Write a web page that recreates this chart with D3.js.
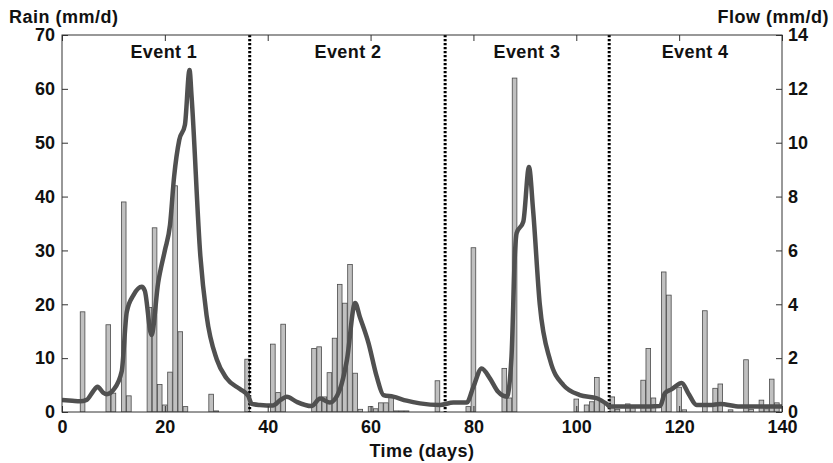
<!DOCTYPE html>
<html>
<head>
<meta charset="utf-8">
<script src="https://cdn.jsdelivr.net/npm/d3@7"></script>
<style>
  body { margin: 0; background: #fff; }
  text { font-family: "Liberation Sans", Arial, Helvetica, sans-serif; font-weight: bold; fill: #111; }
</style>
</head>
<body>
<svg id="chart" width="833" height="463"></svg>
<script>
// daily rain bars (day, mm/d)
var rainDays = [4, 9, 10, 12, 13, 17, 18, 19, 20, 21, 22, 23, 24, 29, 30, 36,
  41, 42, 43, 49, 50, 51, 52, 53, 54, 55, 56, 57, 58, 60, 61, 62, 63, 64, 65, 66, 67, 73,
  79, 80, 86, 87, 88, 100, 102, 103, 104, 105,
  107, 108, 110, 111, 113, 114, 115, 117, 118, 120, 121, 125, 127, 128, 130, 133, 134, 136, 137, 138, 139];
var rainValues = [18.6, 16.2, 3.5, 39.0, 3.0, 19.4, 34.2, 5.1, 1.3, 7.4, 42.0, 14.9, 1.0, 3.3, 0.2, 9.8,
  12.6, 3.6, 16.3, 11.8, 12.1, 2.8, 7.3, 13.7, 23.7, 20.2, 27.4, 7.2, 0.5, 1.0, 0.6, 1.7, 1.7, 3.0, 0.2, 0.2, 0.2, 5.8,
  1.0, 30.5, 8.1, 2.6, 62.0, 2.4, 1.3, 1.9, 6.4, 1.9,
  2.8, 0.5, 1.5, 0.8, 5.9, 11.8, 2.6, 26.0, 21.7, 4.6, 0.4, 18.8, 4.4, 5.2, 0.4, 9.7, 0.5, 2.2, 0.6, 6.1, 1.7];

// flow hydrograph (day, mm/d)
var flowDays = [0, 2, 3.5, 4.8, 6, 6.9, 8, 8.7, 10, 11.6, 12.6, 13.9, 15.5, 16.1, 17.4, 18.7, 20, 21, 21.8, 22.8,
  23.9, 24.8, 25.2, 26.9, 28.1, 30.1, 32, 34.6, 36.2, 36.9, 38.5, 41, 42.5, 43.7, 45.6, 48.5, 50.2, 52.1,
  54, 55.4, 57, 57.9, 59.6, 61.2, 62.5, 64.4, 67, 69.6, 73.5, 76.1, 78.7, 80, 81.6, 83.2, 84.8, 86.5,
  87.4, 88.1, 88.4, 89.7, 90.8, 91.6, 92.9, 94.9, 97.5, 100.7, 104, 105.9, 106.6, 109.8, 112.4, 116.3,
  117.2, 118.5, 120.5, 121.8, 123.4, 126, 128, 131.8, 135.7, 139, 140];
var flowValues = [0.45, 0.42, 0.4, 0.45, 0.75, 0.94, 0.72, 0.66, 0.82, 1.5, 3.72, 4.34, 4.65, 4.5, 2.86, 4.8, 6.0, 6.94, 8.74, 10.1,
  10.66, 12.7, 11.7, 5.8, 3.6, 1.95, 1.25, 0.85, 0.6, 0.3, 0.26, 0.24, 0.45, 0.57, 0.38, 0.22, 0.5, 0.35,
  0.82, 1.93, 4.05, 3.54, 2.56, 1.31, 0.63, 0.57, 0.42, 0.32, 0.26, 0.35, 0.35, 0.94, 1.62, 1.25, 0.75, 0.57,
  2.05, 6.0, 6.64, 7.07, 9.1, 7.5, 4.0, 1.93, 1.0, 0.63, 0.51, 0.3, 0.2, 0.2, 0.2, 0.22,
  0.69, 0.84, 1.08, 0.69, 0.26, 0.26, 0.3, 0.2, 0.2, 0.2, 0.2];

// event separators and labels
var eventBreaks = [36.5, 74.5, 106.4];
var eventNames = ["Event 1", "Event 2", "Event 3", "Event 4"];
var eventCentres = [19.8, 55.6, 90.4, 123.1];

var xTicks = [0, 20, 40, 60, 80, 100, 120, 140]
  , rainTicks = [0, 10, 20, 30, 40, 50, 60, 70]
  , flowTicks = [0, 2, 4, 6, 8, 10, 12, 14];

// plot box (note: "top" is taken by window.top, so use plot_* names)
var plot_left = 62, plot_right = 782, plot_top = 35, plot_bottom = 412;

var svg = d3.select("#chart");

var x = d3.scaleLinear().domain([0, 140]).range([plot_left, plot_right])
  , yRain = d3.scaleLinear().domain([0, 70]).range([plot_bottom, plot_top])
  , yFlow = d3.scaleLinear().domain([0, 14]).range([plot_bottom, plot_top]);

svg.append("clipPath").attr("id", "plot-clip")
  .append("rect")
  .attr("x", plot_left).attr("y", plot_top)
  .attr("width", plot_right - plot_left).attr("height", plot_bottom - plot_top);

var plot = svg.append("g").attr("clip-path", "url(#plot-clip)");

// rain bars
var bars = rainDays.map(function(d, i){ return {day: d, value: rainValues[i]}; });
var barHalf = 0.45;
plot.selectAll(".rain")
  .data(bars)
 .enter().append("rect")
  .classed("rain", true)
  .attr("x", d => x(d.day - barHalf))
  .attr("width", d => x(d.day + barHalf) - x(d.day - barHalf))
  .attr("y", d => yRain(d.value))
  .attr("height", d => yRain(0) - yRain(d.value))
  .style("fill", "#c0c0c0")
  .style("stroke", "#4a4a4a")
  .style("stroke-width", 0.8);

// event separators
plot.selectAll(".sep")
  .data(eventBreaks)
 .enter().append("line")
  .classed("sep", true)
  .attr("x1", d => x(d)).attr("x2", d => x(d))
  .attr("y1", plot_top).attr("y2", plot_bottom)
  .style("stroke", "#000")
  .style("stroke-width", 3)
  .style("stroke-dasharray", "2.2,1.8");

// flow line
var flow = flowDays.map(function(d, i){ return [d, flowValues[i]]; });
var line = d3.line()
  .x(d => x(d[0]))
  .y(d => yFlow(d[1]))
  .curve(d3.curveMonotoneX);

plot.append("path")
  .datum(flow)
  .attr("d", line)
  .style("fill", "none")
  .style("stroke", "#505050")
  .style("stroke-width", 4.5)
  .style("stroke-linejoin", "round");

// axes, ticks pointing inwards like the original
function styleAxis(g){
  g.select(".domain").remove();
  g.selectAll(".tick line").style("stroke", "#333");
  g.selectAll("text").style("font-size", "18px").attr("font-family", null).style("fill", "#111");
}

svg.append("g")
  .attr("transform", "translate(0," + plot_bottom + ")")
  .call(d3.axisBottom(x).tickValues(xTicks).tickSize(-6).tickPadding(8).tickFormat(d3.format("d")))
  .call(styleAxis);

svg.append("g")
  .attr("transform", "translate(0," + plot_top + ")")
  .call(d3.axisTop(x).tickValues(xTicks).tickSize(-6).tickFormat(""))
  .call(styleAxis);

svg.append("g")
  .attr("transform", "translate(" + plot_left + ",0)")
  .call(d3.axisLeft(yRain).tickValues(rainTicks).tickSize(-6).tickPadding(7))
  .call(styleAxis);

svg.append("g")
  .attr("transform", "translate(" + plot_right + ",0)")
  .call(d3.axisRight(yFlow).tickValues(flowTicks).tickSize(-6).tickPadding(6))
  .call(styleAxis);

// frame
svg.append("rect")
  .attr("x", plot_left).attr("y", plot_top)
  .attr("width", plot_right - plot_left).attr("height", plot_bottom - plot_top)
  .style("fill", "none")
  .style("stroke", "#333")
  .style("stroke-width", 1);

// event labels
svg.selectAll(".event")
  .data(eventNames)
 .enter().append("text")
  .classed("event", true)
  .attr("x", (d, i) => x(eventCentres[i]))
  .attr("y", 58)
  .attr("text-anchor", "middle")
  .style("font-size", "18px")
  .style("letter-spacing", "0.4px")
  .text(d => d);

// axis titles
svg.append("text")
  .attr("x", 9).attr("y", 23)
  .style("font-size", "18px")
  .style("letter-spacing", "0.5px")
  .text("Rain (mm/d)");

svg.append("text")
  .attr("x", 829).attr("y", 23)
  .attr("text-anchor", "end")
  .style("font-size", "18px")
  .style("letter-spacing", "0.5px")
  .text("Flow (mm/d)");

svg.append("text")
  .attr("x", (plot_left + plot_right) / 2).attr("y", 457)
  .attr("text-anchor", "middle")
  .style("font-size", "18px")
  .style("letter-spacing", "0.5px")
  .text("Time (days)");
</script>
</body>
</html>
